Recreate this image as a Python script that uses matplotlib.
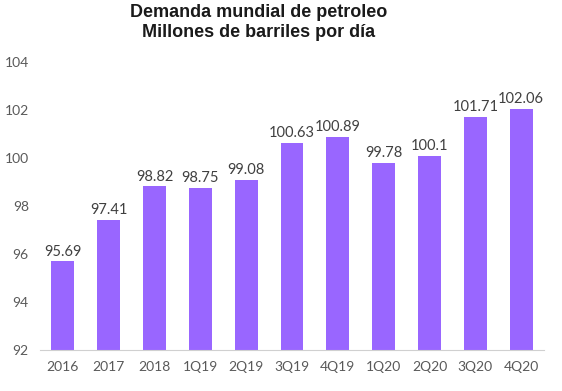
import matplotlib
matplotlib.use("Agg")
import matplotlib.pyplot as plt

categories = ["2016", "2017", "2018", "1Q19", "2Q19", "3Q19", "4Q19", "1Q20", "2Q20", "3Q20", "4Q20"]
values = [95.69, 97.41, 98.82, 98.75, 99.08, 100.63, 100.89, 99.78, 100.1, 101.71, 102.06]
labels = ["95.69", "97.41", "98.82", "98.75", "99.08", "100.63", "100.89", "99.78", "100.1", "101.71", "102.06"]
yticks = [92, 94, 96, 98, 100, 102, 104]

fig = plt.figure(figsize=(5.62, 3.91), dpi=100)
ax = fig.add_axes([0.071, 0.105, 0.897, 0.736])
x = list(range(len(categories)))
ax.bar(x, [v - 92 for v in values], bottom=92, width=0.5, color="#9966FF")
for xi, v, lab in zip(x, values, labels):
    ax.text(xi, v + 0.12, lab, ha="center", va="bottom", fontsize=10.5, color="#404040", family="Lato")
ax.set_ylim(92, 104)
ax.set_xlim(-0.5, len(categories) - 0.5)
ax.set_yticks(yticks)
ax.set_xticks(x)
ax.set_xticklabels(categories)
for s in ["top", "right", "left"]:
    ax.spines[s].set_visible(False)
ax.spines["bottom"].set_color("#d0d0d0")
ax.tick_params(axis="both", length=0, labelsize=10, colors="#595959", pad=8)
for t in ax.get_xticklabels() + ax.get_yticklabels():
    t.set_family("Lato")
ax.tick_params(axis="y", pad=8)
fig.text(0.46, 0.99, "Demanda mundial de petroleo\nMillones de barriles por día", ha="center", va="top",
         fontsize=13, fontweight="bold", family="Liberation Sans", color="#1a1a1a", linespacing=1.25)
fig.savefig("out.png", dpi=100)
